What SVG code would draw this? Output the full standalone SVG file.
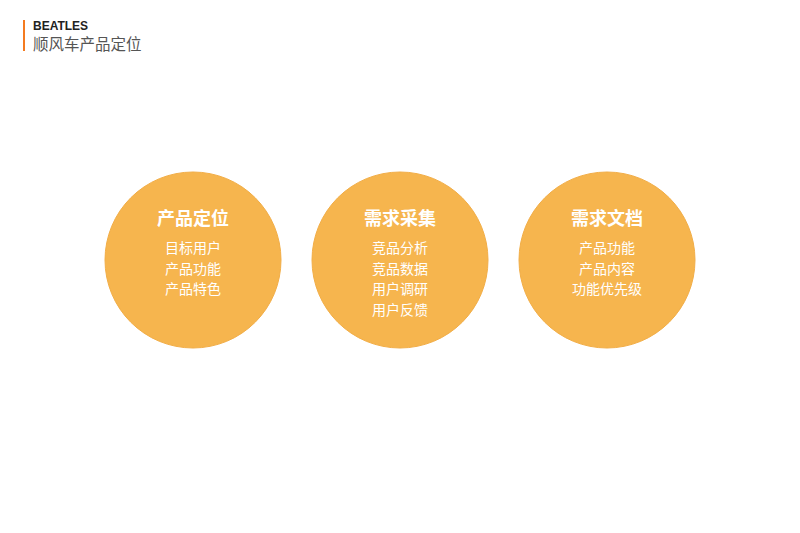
<svg xmlns="http://www.w3.org/2000/svg" width="800" height="533" viewBox="0 0 800 533">
<style>
.circ{fill:#F6B54E;stroke:#F2AE48;stroke-width:1}
.title{font-family:"Noto Sans CJK SC","Noto Sans",sans-serif;font-size:18px;font-weight:bold;fill:#FFFFFF;text-anchor:middle}
.item{font-family:"Noto Sans CJK SC","Noto Sans",sans-serif;font-size:14px;fill:#FFFFFF;text-anchor:middle}
</style>
<rect width="800" height="533" fill="#FFFFFF"/>
<g id="header">
<rect x="23" y="20" width="2" height="31" fill="#F47B20"/>
<text x="33" y="30" font-family="Liberation Sans, Arial, sans-serif" font-size="12" font-weight="bold" fill="#222222">BEATLES</text>
<text x="33" y="50" font-family="Noto Sans CJK SC, sans-serif" font-size="15.5" fill="#555555">顺风车产品定位</text>
</g>
<g id="node-positioning">
<circle class="circ" cx="193" cy="260" r="88"/>
<text class="title" x="193" y="225">产品定位</text>
<text class="item" x="193" y="253">目标用户</text>
<text class="item" x="193" y="274">产品功能</text>
<text class="item" x="193" y="294">产品特色</text>
</g>
<g id="node-collection">
<circle class="circ" cx="400" cy="260" r="88"/>
<text class="title" x="400" y="225">需求采集</text>
<text class="item" x="400" y="253">竞品分析</text>
<text class="item" x="400" y="274">竞品数据</text>
<text class="item" x="400" y="294">用户调研</text>
<text class="item" x="400" y="315">用户反馈</text>
</g>
<g id="node-document">
<circle class="circ" cx="607" cy="260" r="88"/>
<text class="title" x="607" y="225">需求文档</text>
<text class="item" x="607" y="253">产品功能</text>
<text class="item" x="607" y="274">产品内容</text>
<text class="item" x="607" y="294">功能优先级</text>
</g>
<g id="connectors"></g>
</svg>
